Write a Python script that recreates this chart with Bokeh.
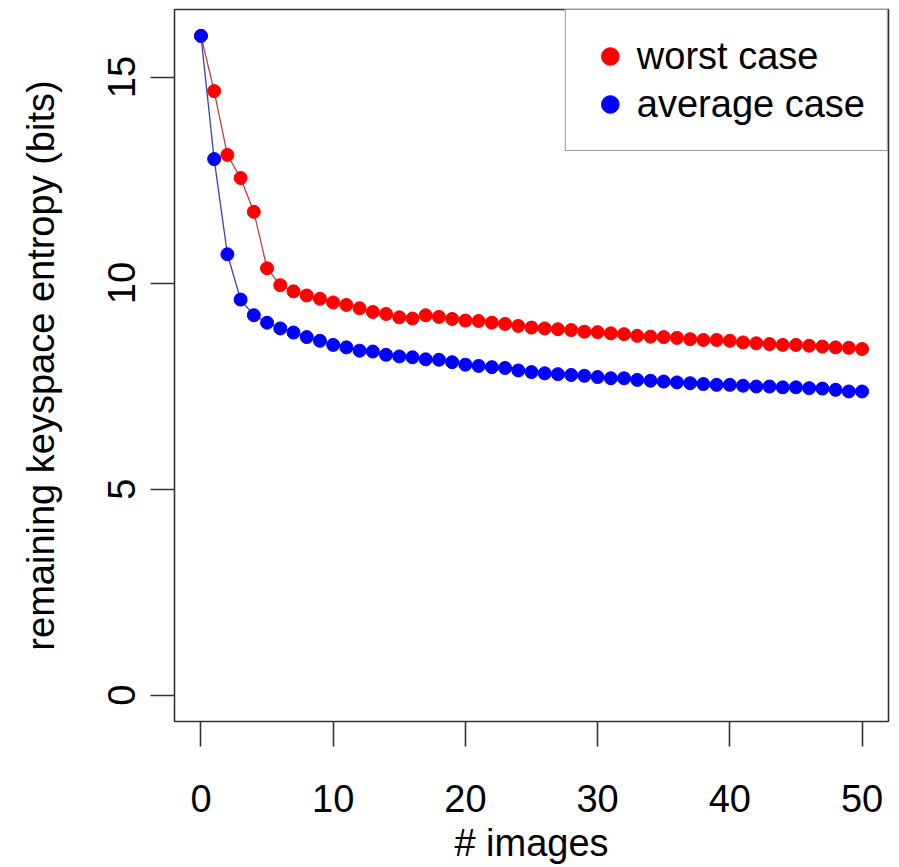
from bokeh.plotting import figure
from bokeh.models import Range1d, FixedTicker, Legend, LegendItem
from bokeh.embed import file_html
from bokeh.resources import INLINE

images = list(range(51))
worst_case = [16.0, 14.66, 13.11, 12.55, 11.73, 10.36, 9.95, 9.80, 9.70, 9.62,
              9.53, 9.47, 9.39, 9.30, 9.25, 9.17, 9.14, 9.22, 9.18, 9.13,
              9.09, 9.08, 9.04, 9.01, 8.96, 8.92, 8.90, 8.88, 8.86, 8.82,
              8.81, 8.78, 8.76, 8.72, 8.70, 8.69, 8.67, 8.64, 8.62, 8.62,
              8.60, 8.56, 8.54, 8.52, 8.50, 8.50, 8.48, 8.46, 8.44, 8.43, 8.40]
average_case = [16.0, 13.01, 10.70, 9.60, 9.22, 9.04, 8.90, 8.80, 8.69, 8.60,
                8.50, 8.44, 8.36, 8.34, 8.26, 8.22, 8.20, 8.15, 8.14, 8.08,
                8.02, 7.99, 7.96, 7.94, 7.88, 7.84, 7.81, 7.79, 7.77, 7.75,
                7.72, 7.69, 7.69, 7.65, 7.63, 7.61, 7.59, 7.57, 7.55, 7.53,
                7.53, 7.51, 7.49, 7.49, 7.47, 7.47, 7.45, 7.44, 7.41, 7.37, 7.37]
x_ticks = [0, 10, 20, 30, 40, 50]
y_ticks = [0, 5, 10, 15]
series_labels = ["worst case", "average case"]

FONT = "Liberation Sans"
FS = "38px"

p = figure(width=891, height=866, output_backend="svg", toolbar_location=None,
           x_range=Range1d(-2, 52), y_range=Range1d(-0.64, 16.64),
           min_border_left=174, min_border_right=3, min_border_top=9,
           min_border_bottom=143)
p.background_fill_color = "white"
p.border_fill_color = "white"
p.outline_line_color = "#333333"
p.outline_line_width = 1.6
p.xgrid.visible = False
p.ygrid.visible = False

r_line = p.line(images, worst_case, line_color="#c83c3c", line_width=1.3)
r_pts = p.scatter(images, worst_case, size=13, fill_color="#ff0000", line_color="#ff0000")
b_line = p.line(images, average_case, line_color="#3c3cc8", line_width=1.3)
b_pts = p.scatter(images, average_case, size=13, fill_color="#0000ff", line_color="#0000ff")

for ax in (p.xaxis[0], p.yaxis[0]):
    ax.axis_line_color = None
    ax.major_tick_line_color = "#333333"
    ax.major_tick_line_width = 1.6
    ax.major_tick_in = 0
    ax.minor_tick_line_color = None
    ax.major_label_text_font = FONT
    ax.major_label_text_font_size = FS
    ax.major_label_text_color = "black"
    ax.axis_label_text_font = FONT
    ax.axis_label_text_font_size = FS
    ax.axis_label_text_font_style = "normal"
    ax.axis_label_text_color = "black"

p.xaxis.ticker = FixedTicker(ticks=x_ticks)
p.yaxis.ticker = FixedTicker(ticks=y_ticks)
p.xaxis.major_tick_out = 25
p.yaxis.major_tick_out = 24
p.xaxis.major_label_standoff = 38
p.yaxis.major_label_standoff = 15
p.yaxis.major_label_orientation = "vertical"
p.xaxis.axis_label = "# images"
p.yaxis.axis_label = "remaining keyspace entropy (bits)"
p.xaxis.axis_label_standoff = 7
p.yaxis.axis_label_standoff = 44

legend = Legend(items=[LegendItem(label=series_labels[0], renderers=[r_pts]),
                       LegendItem(label=series_labels[1], renderers=[b_pts])],
                location="top_right", margin=0, padding=22, spacing=0,
                glyph_width=44, glyph_height=48, label_height=48,
                label_standoff=5,
                label_text_font=FONT, label_text_font_size=FS,
                label_text_color="black",
                border_line_color="#333333", border_line_width=1.6,
                background_fill_color="white", background_fill_alpha=1.0)
p.add_layout(legend)

open("out.html", "w").write(file_html(p, INLINE))
